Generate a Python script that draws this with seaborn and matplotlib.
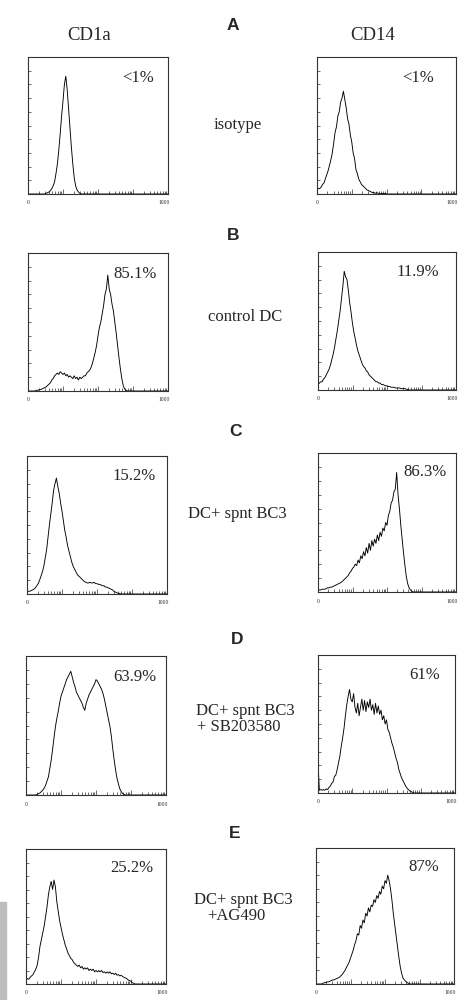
import numpy as np
import pandas as pd
import matplotlib.pyplot as plt
import seaborn as sns
from matplotlib.patches import Rectangle

# fluorescence channel grid (0-1000, 4 log decades)
channels = list(range(0, 1001, 10))

# relative cell counts per channel (rows of 10 channels)
cd1a_isotype = [
    0, 0, 0, 0, 0, 0, 0, 0, 0, 0,
    0, 0, 0, 0.5, 1, 1.5, 2.5, 4, 6, 9,
    15, 22, 32, 44, 57, 68, 80, 86, 76, 62,
    48, 34, 22, 12, 6, 3, 1.5, 0.5, 0, 0,
    0, 0, 0, 0, 0, 0, 0, 0, 0, 0,
    0, 0, 0, 0, 0, 0, 0, 0, 0, 0,
    0, 0, 0, 0, 0, 0, 0, 0, 0, 0,
    0, 0, 0, 0, 0, 0, 0, 0, 0, 0,
    0, 0, 0, 0, 0, 0, 0, 0, 0, 0,
    0, 0, 0, 0, 0, 0, 0, 0, 0, 0,
    0]
cd14_isotype = [
    3, 4, 4, 5, 7, 8, 11, 14, 17, 21,
    25, 30, 37, 45, 49, 57, 60, 67, 70, 75,
    69, 63, 55, 51, 43, 38, 30, 26, 18, 15,
    11, 9, 7, 6, 5, 4, 3, 2.5, 2, 1.5,
    1, 1, 0.5, 1, 0.5, 0.5, 0, 0.5, 0, 0.5,
    0, 0, 0, 0, 0, 0, 0, 0, 0, 0,
    0, 0, 0, 0, 0, 0, 0, 0, 0, 0,
    0, 0, 0, 0, 0, 0, 0, 0, 0, 0,
    0, 0, 0, 0, 0, 0, 0, 0, 0, 0,
    0, 0, 0, 0, 0, 0, 0, 0, 0, 0,
    0]
cd1a_control = [
    0, 0, 0, 0, 0, 0, 0.5, 0.5, 1, 1,
    1.5, 2, 2.5, 3, 4, 5, 6, 8, 9, 11,
    12, 13, 12, 14, 13, 12, 13, 11, 12, 10,
    11, 10, 9, 11, 9, 10, 8, 10, 9, 10,
    11, 11, 13, 14, 15, 17, 20, 24, 28, 33,
    40, 46, 50, 56, 62, 70, 74, 84, 74, 70,
    63, 58, 50, 42, 33, 24, 16, 9, 4, 1.5,
    0.5, 0, 0, 0, 0, 0, 0, 0, 0, 0,
    0, 0, 0, 0, 0, 0, 0, 0, 0, 0,
    0, 0, 0, 0, 0, 0, 0, 0, 0, 0,
    0]
cd14_control = [
    4, 5, 6, 6, 8, 9, 11, 13, 15, 18,
    22, 26, 31, 37, 43, 50, 57, 66, 75, 86,
    82, 80, 72, 63, 56, 48, 42, 37, 32, 28,
    25, 22, 19, 17, 16, 14, 13, 11, 10, 9,
    8, 7, 6, 6, 5, 5, 4, 4, 3.5, 3,
    3, 2.5, 2.5, 2, 2, 2, 1.5, 1.5, 1.5, 1.5,
    1, 1, 1, 1, 0.5, 0.5, 0, 0, 0, 0,
    0, 0, 0, 0, 0, 0, 0, 0, 0, 0,
    0, 0, 0, 0, 0, 0, 0, 0, 0, 0,
    0, 0, 0, 0, 0, 0, 0, 0, 0, 0,
    0]
cd1a_bc3 = [
    1.5, 2, 2, 2.5, 3, 3.5, 4.5, 6, 7.5, 10,
    13, 16, 20, 26, 32, 41, 50, 58, 66, 75,
    80, 84, 78, 73, 66, 60, 53, 46, 41, 35,
    31, 27, 23, 20, 18, 16, 14, 13, 12, 11,
    10, 9, 8.5, 8, 8, 8.5, 8, 8, 8.5, 7.5,
    7.5, 7, 7, 6.5, 6, 6, 5, 5, 4.5, 4,
    3.5, 3, 2, 1.5, 1, 0.5, 0.5, 0, 0, 0,
    0, 0, 0, 0, 0, 0, 0, 0, 0, 0,
    0, 0, 0, 0, 0, 0, 0, 0, 0, 0,
    0, 0, 0, 0, 0, 0, 0, 0, 0, 0,
    0]
cd14_bc3 = [
    1, 1.5, 1.5, 2, 2, 2, 2.5, 3, 3, 3.5,
    3.5, 4, 4.5, 5, 5.5, 6, 6.5, 7, 8, 9,
    10, 11, 12, 14, 15, 17, 18, 20, 19, 23,
    21, 26, 24, 29, 26, 32, 28, 35, 30, 37,
    33, 38, 35, 41, 37, 43, 40, 46, 44, 50,
    48, 55, 58, 64, 66, 72, 74, 86, 70, 60,
    48, 38, 28, 19, 11, 6, 3, 1.5, 0.5, 0,
    0, 0, 0, 0, 0, 0, 0, 0, 0, 0,
    0, 0, 0, 0, 0, 0, 0, 0, 0, 0,
    0, 0, 0, 0, 0, 0, 0, 0, 0, 0,
    0]
cd1a_sb = [
    0, 0, 0, 0, 0, 0, 0, 0, 0.5, 1,
    1.5, 2.5, 3.5, 5, 7, 10, 13, 19, 25, 33,
    41, 49, 55, 60, 66, 71, 74, 77, 80, 83,
    85, 87, 89, 85, 81, 78, 74, 72, 70, 68,
    66, 63, 61, 66, 69, 72, 74, 76, 78, 80,
    83, 82, 80, 78, 76, 73, 69, 64, 59, 54,
    49, 42, 33, 25, 18, 12, 8, 4.5, 2.5, 1,
    0.5, 0, 0, 0, 0, 0, 0, 0, 0, 0,
    0, 0, 0, 0, 0, 0, 0, 0, 0, 0,
    0, 0, 0, 0, 0, 0, 0, 0, 0, 0,
    0]
cd14_sb = [
    22, 2, 2.5, 2, 2.5, 2, 3, 2.5, 4, 5,
    7, 8, 12, 13, 17, 22, 27, 34, 40, 47,
    56, 64, 70, 75, 68, 66, 72, 62, 58, 65,
    56, 62, 68, 60, 67, 59, 66, 62, 68, 60,
    64, 57, 65, 58, 63, 57, 60, 53, 56, 50,
    53, 46, 44, 40, 36, 33, 29, 25, 22, 17,
    14, 11, 9, 7, 5, 3.5, 2.5, 1.5, 1, 0.5,
    0, 0, 0, 0, 0, 0, 0, 0, 0, 0,
    0, 0, 0, 0, 0, 0, 0, 0, 0, 0,
    0, 0, 0, 0, 0, 0, 0, 0, 0, 0,
    0]
cd1a_ag = [
    3, 4, 3.5, 5, 6, 7, 9, 11, 14, 20,
    28, 33, 38, 43, 50, 57, 66, 72, 76, 70,
    77, 72, 61, 54, 47, 42, 37, 33, 29, 26,
    23, 21, 19, 18, 16, 15, 14, 13, 14, 12,
    13, 11, 12, 11, 12, 10, 11, 10, 11, 9,
    10, 9, 10, 9, 10, 8.5, 9, 8, 9, 8,
    9, 7.5, 8, 7, 8, 6.5, 7, 6, 6.5, 5.5,
    5, 4.5, 4, 3, 2.5, 2, 1, 0.5, 0, 0,
    0, 0, 0, 0, 0, 0, 0, 0, 0, 0,
    0, 0, 0, 0, 0, 0, 0, 0, 0, 0,
    0]
cd14_ag = [
    0, 0, 0, 0, 0, 0.5, 1, 1, 1.5, 1.5,
    2, 2.5, 3, 3, 3.5, 4, 4.5, 5, 6, 7,
    8.5, 10, 12, 14, 16, 19, 22, 25, 29, 32,
    37, 36, 43, 41, 47, 45, 52, 50, 56, 53,
    58, 57, 62, 60, 65, 63, 68, 66, 72, 70,
    76, 74, 80, 76, 70, 62, 52, 44, 36, 28,
    20, 13, 8, 4.5, 3, 2, 1, 0.5, 0, 0,
    0, 0, 0, 0, 0, 0, 0, 0, 0, 0,
    0, 0, 0, 0, 0, 0, 0, 0, 0, 0,
    0, 0, 0, 0, 0, 0, 0, 0, 0, 0,
    0]

row_letters = ["A", "B", "C", "D", "E"]
conditions = [["isotype"], ["control DC"], ["DC+ spnt BC3"],
              ["DC+ spnt BC3", "+ SB203580"], ["DC+ spnt BC3", "+AG490"]]
cd1a_curves = [cd1a_isotype, cd1a_control, cd1a_bc3, cd1a_sb, cd1a_ag]
cd14_curves = [cd14_isotype, cd14_control, cd14_bc3, cd14_sb, cd14_ag]
cd1a_pct = ["<1%", "85.1%", "15.2%", "63.9%", "25.2%"]
cd14_pct = ["<1%", "11.9%", "86.3%", "61%", "87%"]

W, H = 469, 1000
sns.set_style("white")
plt.rcParams["font.family"] = ["Liberation Serif", "DejaVu Serif"]

fig = plt.figure(figsize=(W / 100, H / 100), dpi=100)

# panel boxes in pixels: (left, top, right, bottom)
left_boxes = [(28, 57, 168, 194), (28, 253, 168, 391), (27, 456, 167, 594),
              (26, 656, 166, 795), (26, 849, 166, 984)]
right_boxes = [(317, 57, 456, 194), (318, 252, 456, 390), (318, 453, 456, 592),
               (318, 655, 455, 793), (316, 848, 454, 984)]
letter_xy = [(233, 25), (233, 235), (235, 432), (237, 640), (235, 833)]
pct_left_xy = [(138, 78), (135, 274), (134, 476), (135, 677), (132, 868)]
pct_right_xy = [(418, 78), (418, 272), (425, 472), (425, 675), (424, 867)]
# each condition line: (x, y, ha)
cond_pos = [[(238, 125, "center")], [(245, 317, "center")], [(237, 514, "center")],
            [(196, 711, "left"), (197, 727, "left")],
            [(194, 900, "left"), (207, 916, "left")]]

# log-decade tick positions on the 0-1000 channel axis
decade_ticks = [0, 250, 500, 750, 1000]
minor_ticks = [d * 250 + 250 * np.log10(k) for d in range(4) for k in range(2, 10)]


def fx(px):
    return px / W


def fy(py):
    return 1 - py / H


def draw_panel(box, values):
    l, t, r, b = box
    ax = fig.add_axes([fx(l), fy(b), fx(r) - fx(l), fy(t) - fy(b)])
    df = pd.DataFrame({"channel": channels, "count": values})
    sns.lineplot(data=df, x="channel", y="count", ax=ax, color="black", linewidth=0.65)
    ax.set_xlim(0, 1000)
    ax.set_ylim(0, 100)
    ax.set_xlabel("")
    ax.set_ylabel("")
    ax.set_xticks(decade_ticks)
    ax.set_xticks(minor_ticks, minor=True)
    ax.set_yticks(range(0, 101, 10))
    ax.tick_params(axis="x", which="both", direction="in", bottom=True, length=2.5,
                   width=0.5, labelbottom=False, color="#333333")
    ax.tick_params(axis="x", which="major", length=3.5)
    ax.tick_params(axis="y", direction="in", left=True, length=2, width=0.5,
                   labelleft=False, color="#333333")
    for sp in ax.spines.values():
        sp.set_color("#333333")
        sp.set_linewidth(0.8)
    tr = ax.get_xaxis_transform()
    ax.text(0, -0.065, "0", transform=tr, ha="center", va="center", fontsize=4)
    ax.text(1010, -0.065, "1000", transform=tr, ha="right", va="center", fontsize=4)
    return ax


for i in range(5):
    draw_panel(left_boxes[i], cd1a_curves[i])
    draw_panel(right_boxes[i], cd14_curves[i])
    lx, ly = letter_xy[i]
    fig.text(fx(lx), fy(ly), row_letters[i], family="Liberation Sans",
             fontweight="bold", fontsize=12.5, ha="center", va="center")
    px, py = pct_left_xy[i]
    fig.text(fx(px), fy(py), cd1a_pct[i], fontsize=12, ha="center", va="center")
    px, py = pct_right_xy[i]
    fig.text(fx(px), fy(py), cd14_pct[i], fontsize=12, ha="center", va="center")
    for line, (cx, cy, ha) in zip(conditions[i], cond_pos[i]):
        fig.text(fx(cx), fy(cy), line, fontsize=12, ha=ha, va="center")

fig.text(fx(89), fy(35), "CD1a", fontsize=13.5, ha="center", va="center")
fig.text(fx(373), fy(35), "CD14", fontsize=13.5, ha="center", va="center")

# grey scan strip at the lower left edge
fig.patches.append(Rectangle((0, 0), fx(6), fy(902), transform=fig.transFigure,
                             color="#bdbdbd", zorder=0))

fig.savefig("out.png", dpi=100)
